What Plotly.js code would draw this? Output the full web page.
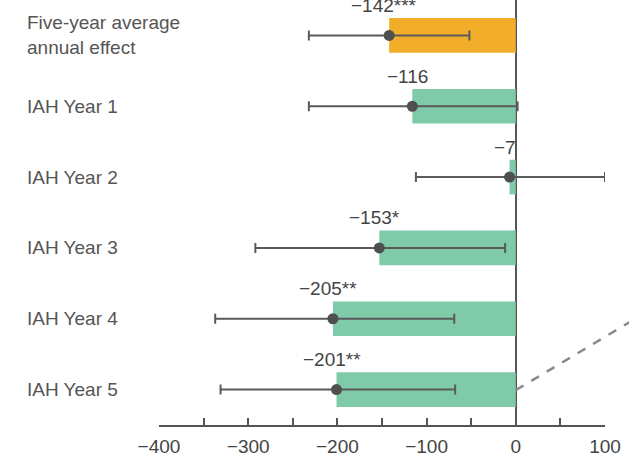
<!DOCTYPE html>
<html>
<head>
<meta charset="utf-8">
<script src="https://cdn.plot.ly/plotly-3.0.1.min.js"></script>
<style>html,body{margin:0;padding:0;background:#fff;}#chart{width:629px;height:459px;}</style>
</head>
<body>
<div id="chart"></div>
<script>
var categories = ["Five-year average<br>annual effect", "IAH Year 1", "IAH Year 2", "IAH Year 3", "IAH Year 4", "IAH Year 5"];
var values = [-142, -116, -7, -153, -205, -201];
var ciLower = [-232, -232, -112, -292, -337, -331];
var ciUpper = [-52, 2, 100, -12, -69, -68];
var valueLabels = ["−142***", "−116", "−7", "−153*", "−205**", "−201**"];
var barColors = ["#F2AE2A", "#7FCAA8", "#7FCAA8", "#7FCAA8", "#7FCAA8", "#7FCAA8"];
var xTickVals = [-400, -300, -200, -100, 0, 100];

var idx = categories.map(function(c, i){ return i; });
var plus = values.map(function(v, i){ return ciUpper[i] - v; });
var minus = values.map(function(v, i){ return v - ciLower[i]; });

var font = "Liberation Sans, Arial, sans-serif";

var bars = {
  type: "bar", orientation: "h", x: values, y: idx, width: 0.49,
  marker: {color: barColors, line: {width: 0}}, hoverinfo: "skip", showlegend: false
};
var points = {
  type: "scatter", mode: "markers", x: values, y: idx,
  marker: {color: "#4f4f4f", size: 11},
  error_x: {type: "data", symmetric: false, array: plus, arrayminus: minus, color: "#5a5a5a", thickness: 2, width: 5},
  showlegend: false, hoverinfo: "skip"
};

var annotations = [];
categories.forEach(function(c, i){
  annotations.push({xref: "paper", yref: "y", x: -0.30, y: i, xanchor: "left", yanchor: "middle", align: "left",
    text: c, showarrow: false, font: {family: font, size: 19, color: "#555555"}});
  annotations.push({xref: "x", yref: "y", x: values[i], y: i, xanchor: "center", yanchor: "middle", yshift: 30, xshift: -5,
    text: valueLabels[i], showarrow: false, font: {family: font, size: 19, color: "#444444"}});
});

var layout = {
  width: 629, height: 459,
  margin: {l: 159, r: 24, t: 0, b: 34},
  paper_bgcolor: "#ffffff", plot_bgcolor: "#ffffff",
  xaxis: {
    range: [-400, 100], tickvals: xTickVals, ticks: "inside", ticklen: 7, tickwidth: 2, tickcolor: "#555555",
    minor: {dtick: 50, tick0: 0, ticks: "inside", ticklen: 7, tickwidth: 2, tickcolor: "#555555"},
    showline: true, linecolor: "#555555", linewidth: 2, showgrid: false,
    zeroline: true, zerolinecolor: "#555555", zerolinewidth: 2,
    ticklabelstandoff: 3,
    tickfont: {family: font, size: 19, color: "#444444"}, fixedrange: true
  },
  yaxis: {
    range: [5.5, -0.5], showticklabels: false, showgrid: false, zeroline: false, showline: false, ticks: "", fixedrange: true
  },
  shapes: [{
    type: "line", xref: "paper", yref: "paper", x0: 0.80, y0: 0.082, x1: 1.06, y1: 0.245,
    line: {color: "#8a8a8a", width: 2.5, dash: "dash"}
  }],
  annotations: annotations,
  bargap: 0.5
};

Plotly.newPlot("chart", [bars, points], layout, {displayModeBar: false, staticPlot: true});
</script>
</body>
</html>
